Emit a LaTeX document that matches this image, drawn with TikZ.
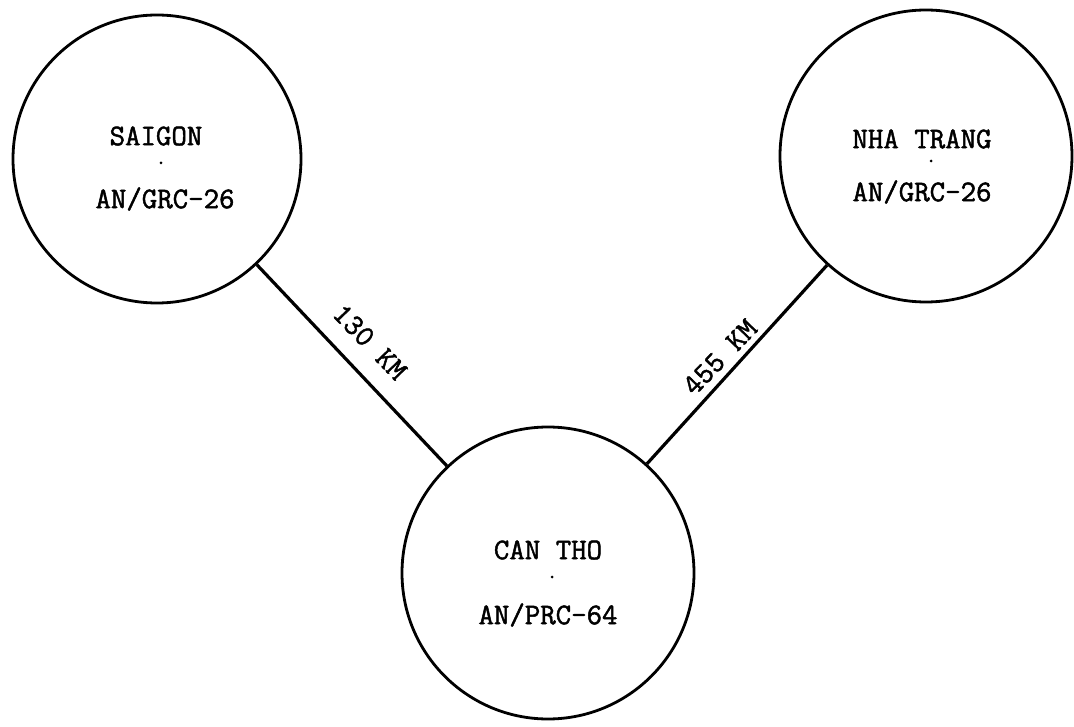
\documentclass[tikz,border=0pt]{standalone}
\usepackage{fontspec}
\newfontfamily\twfont[FakeBold=1.6]{Latin Modern Mono}
\begin{document}
\begin{tikzpicture}[x=1pt,y=-1pt,
  station/.style={draw,circle,line width=2.8pt,inner sep=0pt},
  link/.style={line width=3.2pt},
  lbl/.style={font=\fontsize{30}{34}\selectfont\twfont,inner sep=0pt},
  speck/.style={fill,circle,inner sep=0pt,minimum size=3pt}]
\useasboundingbox (0,0) rectangle (1074,727);
\node[station,minimum size=288pt] (saigon) at (157,159) {};
\node[station,minimum size=292pt] (nhatrang) at (926,156) {};
\node[station,minimum size=292pt] (cantho) at (548,573) {};
\draw[link] (saigon) -- (cantho);
\draw[link] (nhatrang) -- (cantho);
\node[lbl] (s1) at (156,136) {SAIGON};
\node[speck] (s2) at (161,163) {};
\node[lbl] (s3) at (165,199) {AN/GRC-26};
\node[lbl] (n1) at (922,139) {NHA TRANG};
\node[speck] (n2) at (931,161) {};
\node[lbl] (n3) at (922,192) {AN/GRC-26};
\node[lbl] (c1) at (548,550) {CAN THO};
\node[speck] (c2) at (552,577) {};
\node[lbl] (c3) at (548,615) {AN/PRC-64};
\node[lbl,rotate=-46] (d1) at (370,342) {130 KM};
\node[lbl,rotate=46] (d2) at (720,357) {455 KM};
\end{tikzpicture}
\end{document}
